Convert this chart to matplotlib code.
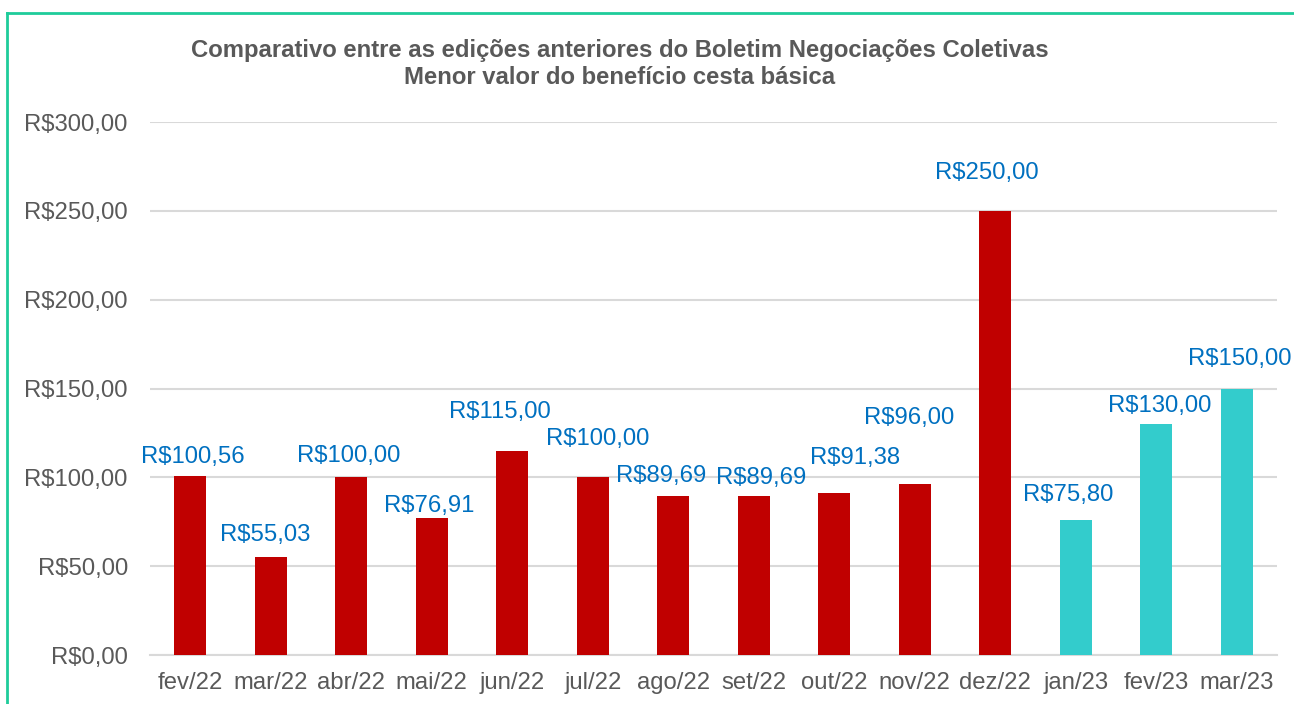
import matplotlib.pyplot as plt
from matplotlib.lines import Line2D

plt.rcParams['font.family'] = ['Liberation Sans', 'DejaVu Sans']

months = ["fev/22", "mar/22", "abr/22", "mai/22", "jun/22", "jul/22", "ago/22",
          "set/22", "out/22", "nov/22", "dez/22", "jan/23", "fev/23", "mar/23"]
values = [100.56, 55.03, 100.00, 76.91, 115.00, 100.00, 89.69,
          89.69, 91.38, 96.00, 250.00, 75.80, 130.00, 150.00]
n_2022 = 11

# deslocamento dos rótulos (px) como no gráfico original
label_dx = [3, -6, -3, -3, -12, 5, -12, 7, 21, -6, -8, -8, 3, 3]
label_dy = [19, 22, 21, 12, 39, 38, 20, 18, 35, 66, 38, 25, 18, 30]


def brl(v):
    return "R$" + f"{v:,.2f}".replace(",", "X").replace(".", ",").replace("X", ".")


colors = ["#C00000"] * n_2022 + ["#33CCCC"] * (len(months) - n_2022)

fig = plt.figure(figsize=(12.94, 7.04), dpi=100)
ax = fig.add_axes([0.1159, 0.0696, 0.871, 0.7571])

x = range(len(months))
bars = ax.bar(x, values, width=0.4, color=colors, zorder=3)

for b, v, dx, dy in zip(bars, values, label_dx, label_dy):
    ax.annotate(brl(v), (b.get_x() + b.get_width() / 2, v), xytext=(dx, dy),
                textcoords="offset pixels", ha="center", va="center",
                fontsize=17.2, color="#0070C0")

ax.set_xlim(-0.5, len(months) - 0.5)
ax.set_ylim(0, 300)
ax.set_yticks(range(0, 301, 50))
ax.set_yticklabels([brl(t) for t in range(0, 301, 50)])
ax.set_xticks(list(x))
ax.set_xticklabels(months)
ax.tick_params(axis="both", length=0, labelsize=17.2, colors="#595959")
ax.tick_params(axis="y", pad=16)
ax.tick_params(axis="x", pad=12)
ax.grid(axis="y", color="#D9D9D9", linewidth=1.5, zorder=0)
for s in ["top", "right", "left"]:
    ax.spines[s].set_visible(False)
ax.spines["bottom"].set_color("#D9D9D9")
ax.spines["bottom"].set_linewidth(1.5)

fig.text(0.479, 0.909, "Comparativo entre as edições anteriores do Boletim Negociações Coletivas\n"
         "Menor valor do benefício cesta básica", ha="center", va="center",
         fontsize=17.2, fontweight="bold", color="#595959", linespacing=1.2)

# borda
bc = "#1ECC9A"
fig.add_artist(Line2D([7 / 1294, 1], [1 - 13 / 704, 1 - 13 / 704], color=bc, lw=2, transform=fig.transFigure))
fig.add_artist(Line2D([7 / 1294, 7 / 1294], [0, 1 - 13 / 704], color=bc, lw=2, transform=fig.transFigure))

fig.savefig("out.png", dpi=100)
